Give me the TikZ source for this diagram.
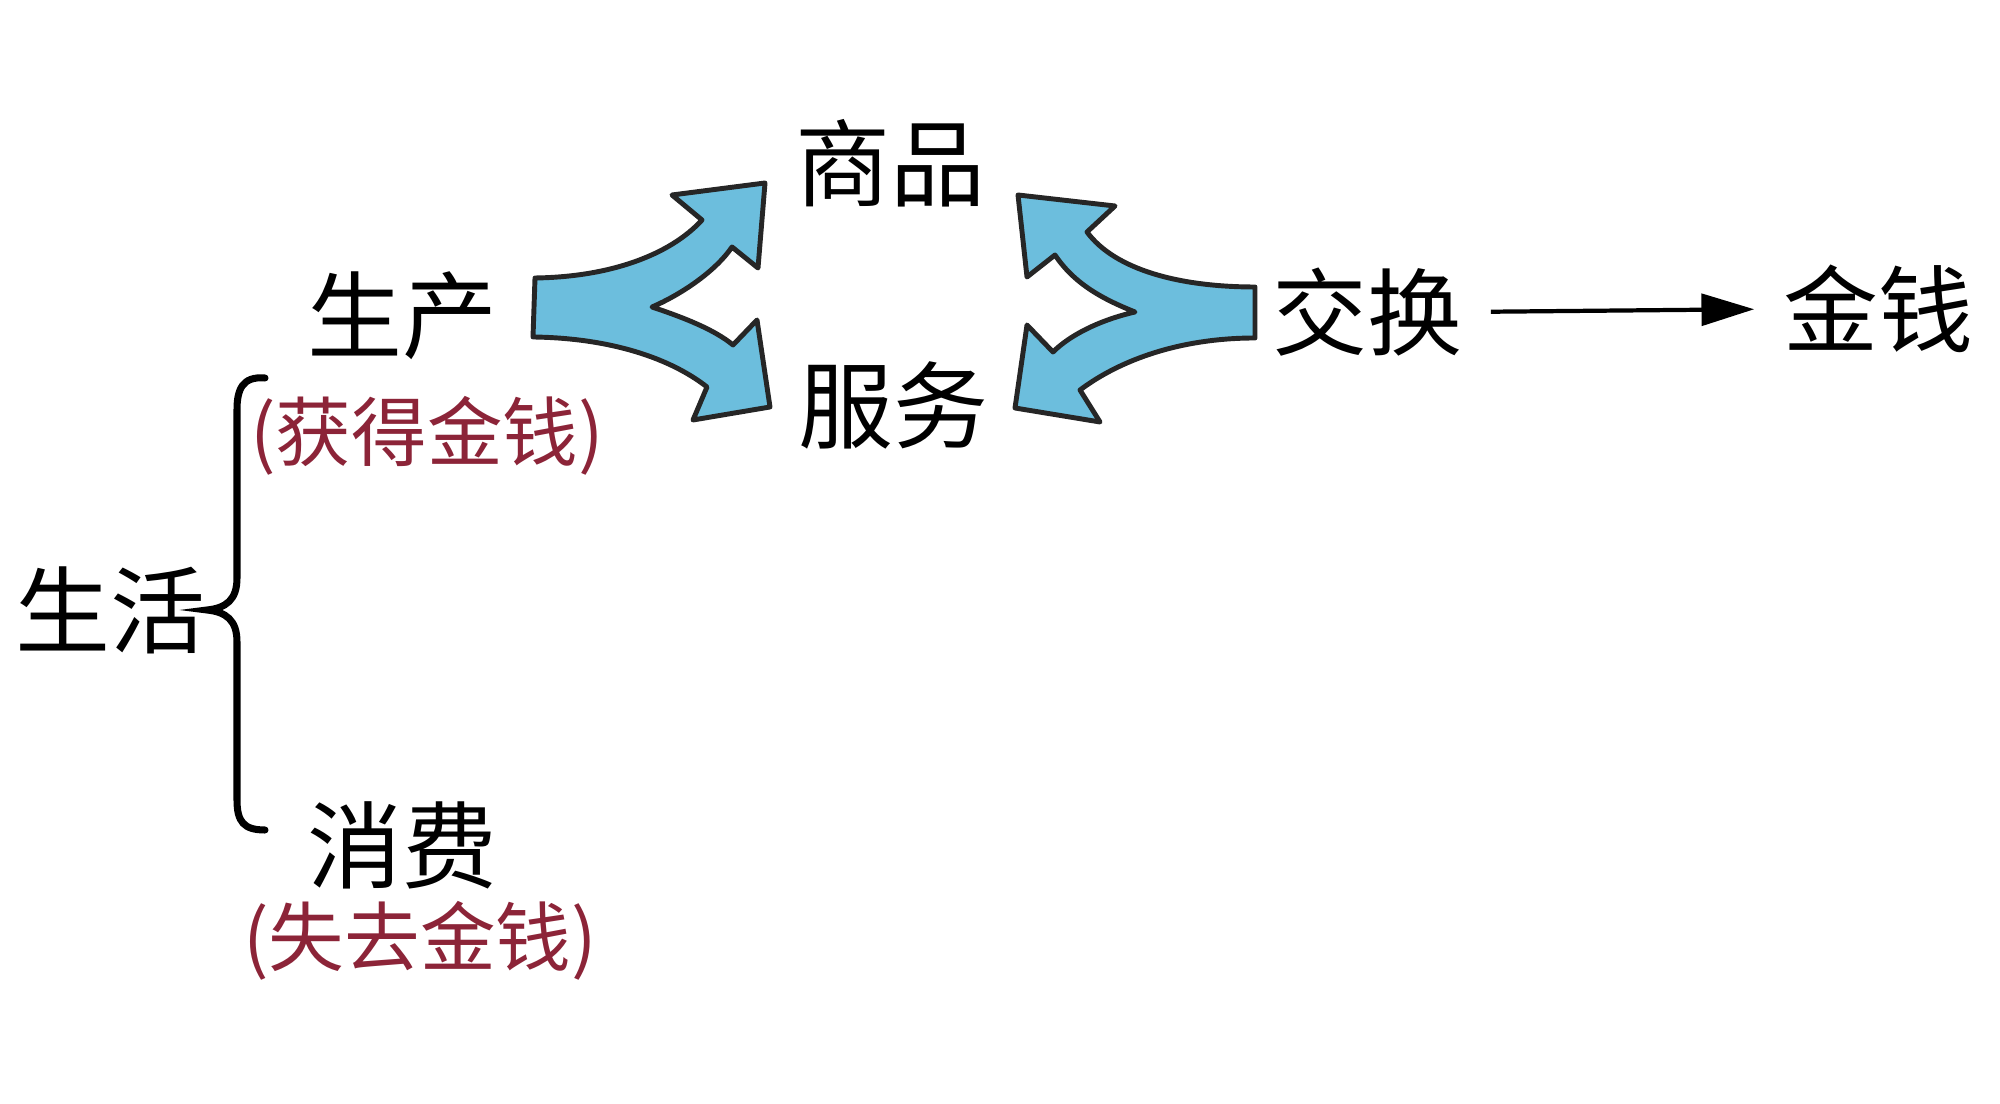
\documentclass[tikz,border=0pt]{standalone}
\usepackage{fontspec}
\newfontfamily\cjk{Noto Sans CJK SC}
\usetikzlibrary{arrows.meta}
\definecolor{arrowblue}{RGB}{108,190,221}
\definecolor{notered}{RGB}{140,36,56}
\tikzset{
  big/.style={font=\cjk\fontsize{27pt}{30pt}\selectfont, inner sep=0pt, text=black},
  note/.style={font=\cjk\fontsize{21.5pt}{24pt}\selectfont, inner sep=0pt, text=notered},
  fork/.style={fill=arrowblue, draw=black!85, line width=1.4pt, line join=round},
  brace/.style={draw=black, line width=2pt, line cap=round},
  link/.style={draw=black, line width=1.2pt, -{Triangle[length=15pt,width=9pt]}}
}
\begin{document}
\begin{tikzpicture}[x=0.01cm,y=-0.01cm]
\useasboundingbox (0,0) rectangle (2000,1104);
% text nodes
\node[big] (shangpin) at (890,163) {商品};
\node[big] (shengchan) at (402,316) {生产};
\node[big] (fuwu) at (893,405) {服务};
\node[big] (jiaohuan) at (1367,312) {交换};
\node[big] (jinqian) at (1878,309) {金钱};
\node[big] (shenghuo) at (110,610) {生活};
\node[big] (xiaofei) at (402,845) {消费};
\node[note] (huode) at (427,436) {(获得金钱)};
\node[note] (shiqu) at (420,941) {(失去金钱)};
% left fork arrow
\path[fork] (535,278) .. controls (610,277) and (670,255) .. (702,220)
  -- (672,195) -- (765,183) -- (758,268) -- (732,247)
  .. controls (715,272) and (680,295) .. (652,307)
  .. controls (685,318) and (715,330) .. (733,345)
  -- (757,320) -- (770,407) -- (693,420) -- (707,387)
  .. controls (670,358) and (610,338) .. (533,337) -- cycle;
% right fork arrow
\path[fork] (1255,287) .. controls (1180,287) and (1115,270) .. (1087,232)
  -- (1115,206) -- (1018,195) -- (1027,277) -- (1055,255)
  .. controls (1075,285) and (1105,300) .. (1135,312)
  .. controls (1100,320) and (1070,335) .. (1053,352)
  -- (1027,325) -- (1015,408) -- (1100,422) -- (1080,390)
  .. controls (1120,360) and (1180,338) .. (1255,338) -- cycle;
% brace
\path[brace] (265,378) .. controls (242,376) and (237,390) .. (237,410)
  -- (237,578) .. controls (237,600) and (226,608) .. (207,610)
  .. controls (226,612) and (237,620) .. (237,642)
  -- (237,800) .. controls (237,822) and (244,830) .. (265,830);
% exchange arrow
\draw[link, shorten <=8pt, shorten >=8pt] (jiaohuan.east) -- (jinqian.west);
\end{tikzpicture}
\end{document}
